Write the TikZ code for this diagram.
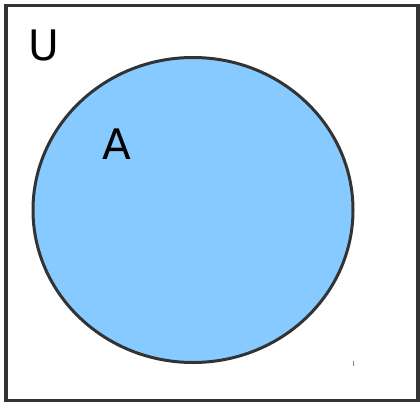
\documentclass[tikz,border=0pt]{standalone}
\usepackage{fontspec}
\setmainfont{DejaVu Sans}
\begin{document}
\begin{tikzpicture}[x=1pt,y=-1pt,
  frame/.style={draw=black!80,line width=3.5pt},
  setA/.style={draw=black!80,line width=3pt,fill={rgb,255:red,135;green,202;blue,255}},
  lbl/.style={font=\fontsize{42}{42}\selectfont,text=black,inner sep=0pt,anchor=center}]
\useasboundingbox (0,0) rectangle (420,404);
\draw[frame] (6,5.3) rectangle (418,400.5);
\path[setA] (193,210) ellipse [x radius=160,y radius=152.5];
\node[lbl] (u) at (43.5,45) {U};
\node[lbl] (a) at (117,144) {A};
\draw[black!50,line width=1pt] (353.5,361) -- (353.5,366);
\end{tikzpicture}
\end{document}
